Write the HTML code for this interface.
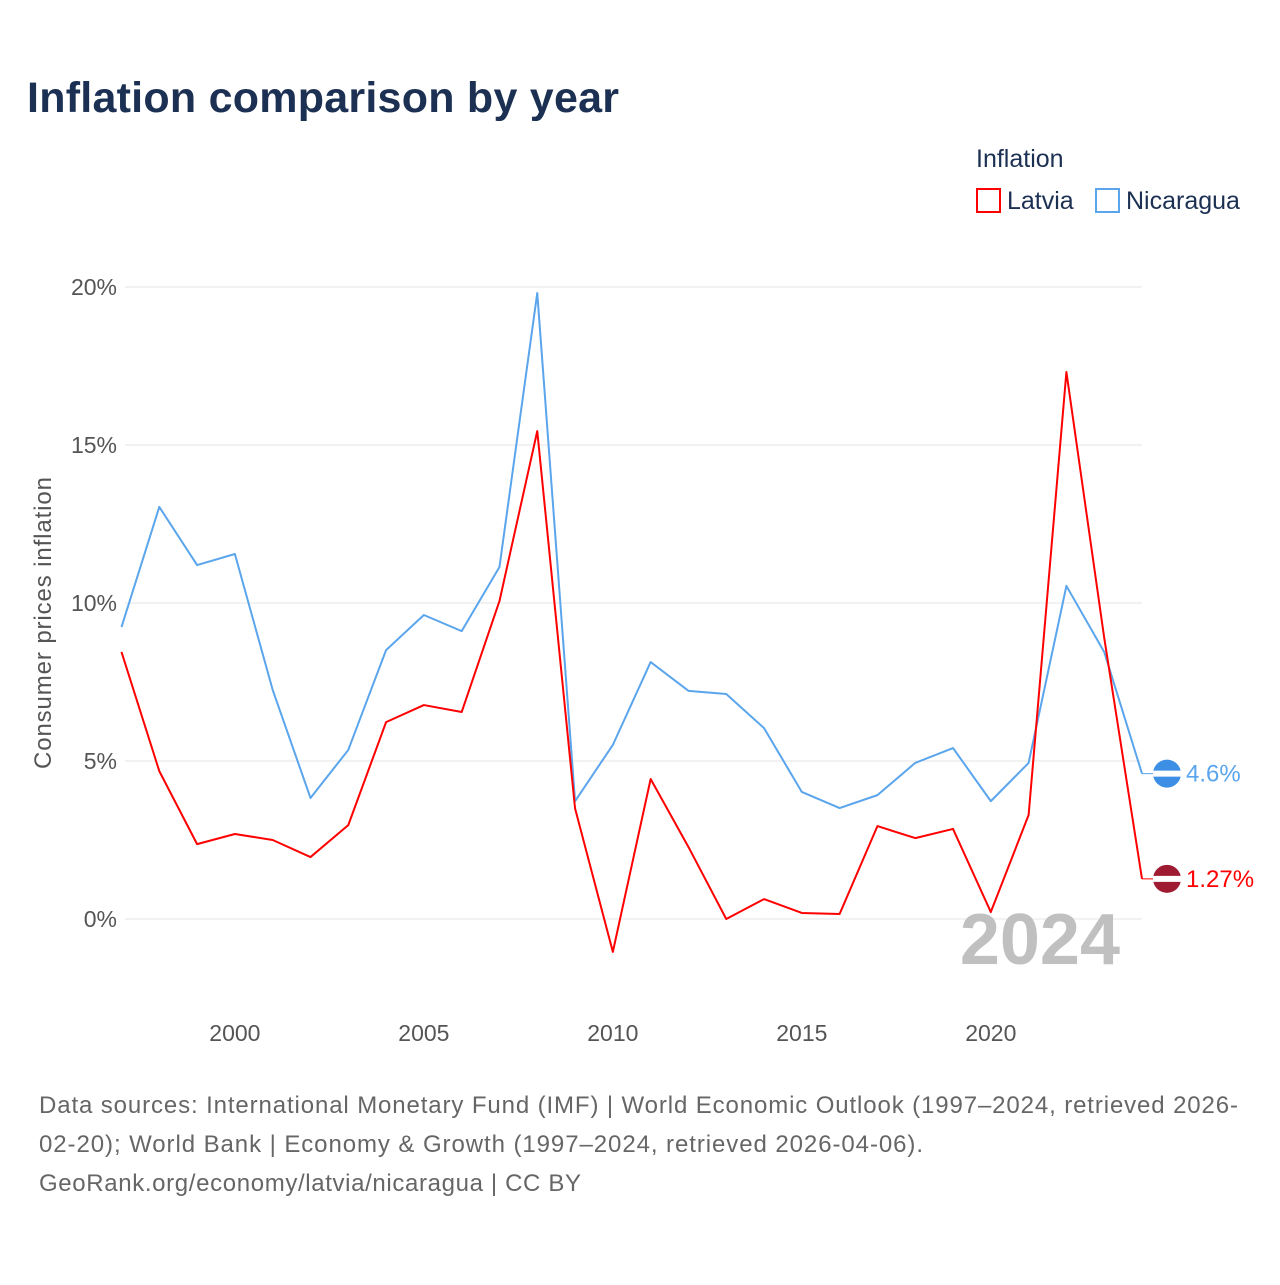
<!DOCTYPE html>
<html><head><meta charset="utf-8"><style>
body{margin:0;background:#fff;font-family:"Liberation Sans",sans-serif}
svg text{font-family:"Liberation Sans",sans-serif}
</style></head><body>
<svg width="1280" height="1280" viewBox="0 0 1280 1280">
<text x="27" y="112" font-size="43" font-weight="bold" fill="#1b3052" textLength="592">Inflation comparison by year</text>
<text x="976" y="167" font-size="25" fill="#1b3052">Inflation</text>
<g><rect x="977" y="189" width="23" height="23" fill="none" stroke="#ff0000" stroke-width="2"/><text x="1007" y="209" font-size="25" fill="#1b3052">Latvia</text></g>
<g><rect x="1096" y="189" width="23" height="23" fill="none" stroke="#5aa5ec" stroke-width="2"/><text x="1126" y="209" font-size="25" fill="#1b3052">Nicaragua</text></g>
<g id="grid"></g><g id="xt"></g>
<text transform="translate(51,623) rotate(-90)" text-anchor="middle" font-size="24" fill="#555" textLength="292">Consumer prices inflation</text>
<text x="1120" y="964" text-anchor="end" font-size="72" font-weight="bold" fill="#c0c0c0">2024</text>
<g id="lines"></g>
<text x="39" y="1113" font-size="24" fill="#666" textLength="1199">Data sources: International Monetary Fund (IMF) | World Economic Outlook (1997–2024, retrieved 2026-</text>
<text x="39" y="1152" font-size="24" fill="#666" textLength="884">02-20); World Bank | Economy &amp; Growth (1997–2024, retrieved 2026-04-06).</text>
<text x="39" y="1191" font-size="24" fill="#666" textLength="542">GeoRank.org/economy/latvia/nicaragua | CC BY</text>
</svg>
<script>
const years=[1997,1998,1999,2000,2001,2002,2003,2004,2005,2006,2007,2008,2009,2010,2011,2012,2013,2014,2015,2016,2017,2018,2019,2020,2021,2022,2023,2024];
const latvia=[8.45,4.68,2.37,2.69,2.5,1.96,2.97,6.23,6.77,6.55,10.06,15.44,3.5,-1.04,4.43,2.28,0.0,0.63,0.19,0.16,2.94,2.56,2.85,0.22,3.29,17.31,8.9,1.27];
const nicaragua=[9.24,13.04,11.2,11.55,7.25,3.83,5.35,8.51,9.62,9.11,11.14,19.81,3.73,5.51,8.13,7.22,7.12,6.04,4.02,3.51,3.92,4.94,5.41,3.73,4.94,10.54,8.45,4.6];
const yTicks=[0,5,10,15,20];
const xTicks=[2000,2005,2010,2015,2020];
const NS="http://www.w3.org/2000/svg";
const X=y=>121.5+(y-1997)*(1142-121.5)/27;
const Y=v=>919-v*31.6;
function mk(t,a,p){const e=document.createElementNS(NS,t);for(const k in a)e.setAttribute(k,a[k]);p.appendChild(e);return e;}
const grid=document.getElementById('grid');
yTicks.forEach(v=>{
 const l=mk('line',{x1:125,x2:1142,y1:Y(v),y2:Y(v),stroke:'#e6e6e6','stroke-width':1},grid);
 
 
 const t=mk('text',{x:117,y:Y(v)+8,'text-anchor':'end','font-size':23,fill:'#555'},grid);
 t.textContent=v+'%';
 
 
});
const xt=document.getElementById('xt');
xTicks.forEach(v=>{
 const t=mk('text',{x:X(v),y:1041,'text-anchor':'middle','font-size':23,fill:'#555'},xt);
 t.textContent=v;
 
 
});
const lines=document.getElementById('lines');
function series(vals,col,flagCol,name,label){
 const pts=vals.map((v,i)=>X(years[i])+','+Y(v)).join(' ');
 const p=mk('polyline',{points:pts,fill:'none',stroke:col,'stroke-width':2,'stroke-linejoin':'round'},lines);
 
 
 const last=vals[vals.length-1],ly=Y(last);
 mk('line',{x1:1142,x2:1153,y1:ly,y2:ly,stroke:col,'stroke-width':1},lines);
 const c=mk('circle',{cx:1167,cy:ly,r:14,fill:flagCol},lines);
 
 
 mk('rect',{x:1153,y:ly-3,width:28,height:6,fill:'#fff'},lines);
 const t=mk('text',{x:1186,y:ly+8,'font-size':24,fill:col},lines);
 t.textContent=label;
 
 
}
series(nicaragua,'#5aa5ec','#3d8fe6','nicaragua',nicaragua[nicaragua.length-1]+'%');
series(latvia,'#ff0000','#9e1b32','latvia',latvia[latvia.length-1]+'%');
</script>
</body></html>
